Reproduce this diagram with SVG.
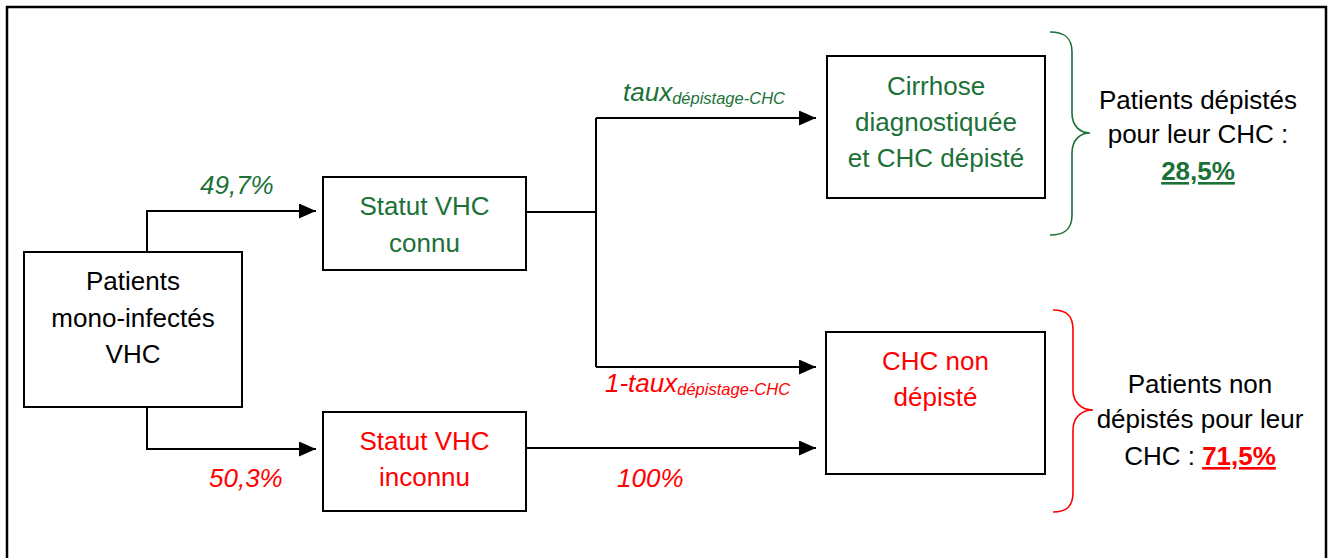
<svg xmlns="http://www.w3.org/2000/svg" width="1331" height="558" viewBox="0 0 1331 558">
<style>
text{font-family:"Liberation Sans",Arial,sans-serif;font-size:26px;text-anchor:middle}
.box{fill:#fff;stroke:#000;stroke-width:2}
.g{fill:#1b7138}
.r{fill:#ff0000}
.k{fill:#000}
.lbl{font-style:italic;text-anchor:start}
.sub{font-size:16.5px}
.conn{fill:none;stroke:#000;stroke-width:2}
.brace{fill:none;stroke-width:1.6}
.u{font-weight:bold;text-decoration:underline}
</style>
<defs>
<marker id="arr" viewBox="0 0 17 15" refX="17" refY="7.5" markerWidth="17" markerHeight="15" markerUnits="userSpaceOnUse" orient="auto">
<path d="M0,0 L17,7.5 L0,15 z" fill="#000"/>
</marker>
</defs>
<rect x="7" y="7" width="1319" height="600" fill="#fff" stroke="#000" stroke-width="2.5"/>
<g id="connectors">
<path class="conn" d="M147,252 V211 H316" marker-end="url(#arr)"/>
<path class="conn" d="M147,407 V449 H316" marker-end="url(#arr)"/>
<path class="conn" d="M526,212 H596"/>
<path class="conn" d="M596,118 V367"/>
<path class="conn" d="M596,118 H816" marker-end="url(#arr)"/>
<path class="conn" d="M596,367 H816" marker-end="url(#arr)"/>
<path class="conn" d="M526,448 H816" marker-end="url(#arr)"/>
<text class="lbl g" x="200" y="194">49,7%</text>
<text class="lbl r" x="209" y="487">50,3%</text>
<text class="lbl g" x="623" y="101">taux<tspan class="sub" dy="3">dépistage-CHC</tspan></text>
<text class="lbl r" x="605" y="392">1-taux<tspan class="sub" dy="3">dépistage-CHC</tspan></text>
<text class="lbl r" x="617" y="487">100%</text>
</g>
<g id="patients">
<rect class="box" x="24" y="252" width="218" height="155"/>
<text class="k" x="133" y="290">Patients</text>
<text class="k" x="133" y="327">mono-infectés</text>
<text class="k" x="133" y="363">VHC</text>
</g>
<g id="statut-connu">
<rect class="box" x="323" y="177" width="203" height="93"/>
<text class="g" x="424.5" y="215">Statut VHC</text>
<text class="g" x="424.5" y="252">connu</text>
</g>
<g id="statut-inconnu">
<rect class="box" x="323" y="412" width="203" height="99"/>
<text class="r" x="424.5" y="450">Statut VHC</text>
<text class="r" x="424.5" y="486">inconnu</text>
</g>
<g id="cirrhose">
<rect class="box" x="827" y="56" width="218" height="142"/>
<text class="g" x="936" y="95">Cirrhose</text>
<text class="g" x="936" y="131">diagnostiquée</text>
<text class="g" x="936" y="167">et CHC dépisté</text>
</g>
<g id="chc-non-depiste">
<rect class="box" x="826" y="332" width="219" height="142"/>
<text class="r" x="935.5" y="370">CHC non</text>
<text class="r" x="935.5" y="406">dépisté</text>
</g>
<g id="depistes">
<path class="brace" stroke="#1b7138" d="M1050,32 C1065,32 1072,38 1072,52 V113 C1072,126 1080,133 1090,133 C1080,133 1072,140 1072,153 V215 C1072,229 1065,235 1050,235"/>
<text class="k" x="1198" y="109">Patients dépistés</text>
<text class="k" x="1198" y="143">pour leur CHC :</text>
<text class="g u" x="1198" y="180">28,5%</text>
</g>
<g id="non-depistes">
<path class="brace" stroke="#ff0000" d="M1053,310 C1067,310 1073,316 1073,330 V390 C1073,403 1082,410 1093,410 C1082,410 1073,417 1073,430 V492 C1073,506 1067,512 1053,512"/>
<text class="k" x="1200" y="393">Patients non</text>
<text class="k" x="1200" y="428">dépistés pour leur</text>
<text class="k" x="1200" y="465">CHC : <tspan class="r u">71,5%</tspan></text>
</g>
</svg>
